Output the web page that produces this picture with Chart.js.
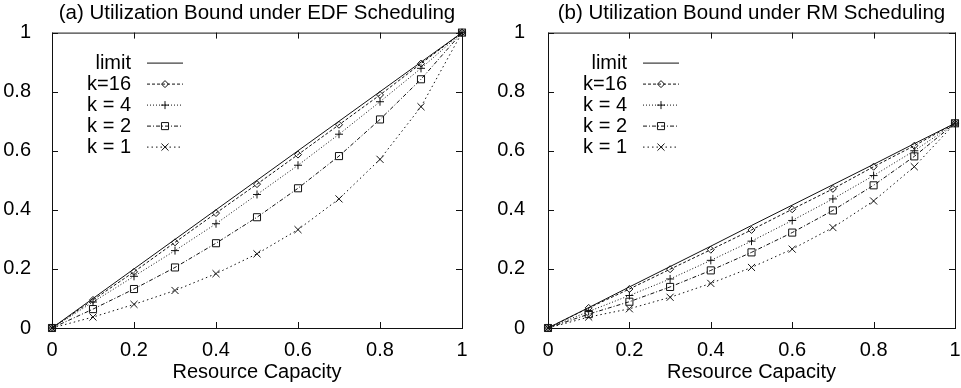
<!DOCTYPE html>
<html>
<head>
<meta charset="utf-8">
<script src="https://cdn.jsdelivr.net/npm/chart.js@4"></script>
<style>
  html, body { margin: 0; padding: 0; background: #fff; }
  #wrap   { display: flex; width: 961px; height: 388px; }
  .panel  { position: relative; height: 388px; }
</style>
</head>
<body>
<div id="wrap">
  <div class="panel"><canvas id="edfChart" width="480" height="388"></canvas></div>
  <div class="panel"><canvas id="rmChart"  width="481" height="388"></canvas></div>
</div>
<script>
// Utilization bounds vs. resource capacity

const capacity     = [0, 0.1, 0.2, 0.3, 0.4, 0.5, 0.6, 0.7, 0.8, 0.9, 1]
const seriesLabels = ['limit', 'k=16', 'k = 4', 'k = 2', 'k = 1']
const tickValues   = [0, 0.2, 0.4, 0.6, 0.8, 1]

// (a) EDF
const edfLimit = [0, 0.1,   0.2,   0.3,   0.4,   0.5,   0.6,   0.7,   0.8,   0.9,   1]
const edfK16   = [0, 0.095, 0.19,  0.29,  0.389, 0.487, 0.587, 0.688, 0.789, 0.895, 1]
const edfK4    = [0, 0.088, 0.175, 0.262, 0.353, 0.452, 0.551, 0.656, 0.766, 0.879, 1]
const edfK2    = [0, 0.064, 0.132, 0.205, 0.287, 0.375, 0.473, 0.582, 0.706, 0.842, 1]
const edfK1    = [0, 0.037, 0.08,  0.127, 0.184, 0.251, 0.333, 0.437, 0.571, 0.749, 1]

// (b) RM
const rmLimit  = [0, 0.069, 0.139, 0.208, 0.277, 0.347, 0.416, 0.485, 0.554, 0.624, 0.693]
const rmK16    = [0, 0.068, 0.132, 0.199, 0.265, 0.332, 0.402, 0.471, 0.546, 0.617, 0.693]
const rmK4     = [0, 0.056, 0.11,  0.166, 0.229, 0.294, 0.364, 0.437, 0.516, 0.6,   0.693]
const rmK2     = [0, 0.047, 0.089, 0.139, 0.195, 0.256, 0.323, 0.398, 0.483, 0.581, 0.693]
const rmK1     = [0, 0.037, 0.065, 0.104, 0.151, 0.205, 0.267, 0.34,  0.43,  0.546, 0.693]

const FONT = "'Liberation Sans', Arial, Helvetica, sans-serif"
const INK  = '#111'

// gnuplot-ish line types: solid, dashed, dotted, dash-dot, sparse dots
const seriesStyle = [
  { dash: [],           point: false,      radius: 0   },
  { dash: [3, 2],       point: 'rectRot',  radius: 3.5 },
  { dash: [1, 2],       point: 'cross',    radius: 4   },
  { dash: [4, 2, 1, 2], point: 'rect',     radius: 5   },
  { dash: [1.5, 3],     point: 'crossRot', radius: 5   }
]

// box around the plot with inward ticks on all four sides

const framePlugin = {
  id: 'frame',
  beforeDatasetsDraw(chart)
  {
    const { ctx, chartArea: a, scales } = chart
    const len = 6

    ctx.save()
    ctx.strokeStyle = INK
    ctx.lineWidth   = 1
    ctx.setLineDash([])
    ctx.strokeRect(a.left + 0.5, a.top + 0.5, a.right - a.left, a.bottom - a.top)

    ctx.beginPath()
    tickValues.forEach(v => {
      const x = Math.round(scales.x.getPixelForValue(v)) + 0.5
      const y = Math.round(scales.y.getPixelForValue(v)) + 0.5
      ctx.moveTo(x, a.bottom); ctx.lineTo(x, a.bottom - len)
      ctx.moveTo(x, a.top);    ctx.lineTo(x, a.top + len)
      ctx.moveTo(a.left, y);   ctx.lineTo(a.left + len, y)
      ctx.moveTo(a.right, y);  ctx.lineTo(a.right - len, y)
    })
    ctx.stroke()
    ctx.restore()
  }
}

// key inside the plot: right-aligned label, then a line sample with its marker

const keyPlugin = {
  id: 'key',
  afterDraw(chart)
  {
    const { ctx, chartArea: a } = chart
    const textRight = a.left + 79
    const lineFrom  = a.left + 95
    const lineTo    = a.left + 131
    const top       = a.top + 30
    const rowStep   = 21

    ctx.save()
    ctx.font         = `20px ${FONT}`
    ctx.textAlign    = 'right'
    ctx.textBaseline = 'middle'

    chart.data.datasets.forEach((ds, i) => {
      const y = top + i * rowStep

      ctx.fillStyle = '#000'
      ctx.fillText(ds.label, textRight, y + 1)

      ctx.strokeStyle = ds.borderColor
      ctx.lineWidth   = 1
      ctx.setLineDash(ds.borderDash)
      ctx.beginPath()
      ctx.moveTo(lineFrom, y + 0.5)
      ctx.lineTo(lineTo, y + 0.5)
      ctx.stroke()
      ctx.setLineDash([])

      if( ds.pointStyle )
      {
        ctx.fillStyle = 'rgba(0,0,0,0)'
        Chart.helpers.drawPoint(ctx, {
          pointStyle:  ds.pointStyle,
          radius:      ds.pointRadius,
          rotation:    0,
          borderWidth: 1
        }, (lineFrom + lineTo) / 2, y + 0.5)
      }
    })
    ctx.restore()
  }
}

function buildDatasets(series)
{
  return series.map((values, i) => {
    const st = seriesStyle[i]
    return {
      label:                seriesLabels[i],
      data:                 capacity.map((x, j) => ({ x: x, y: values[j] })),
      borderColor:          INK,
      borderWidth:          1,
      borderDash:           st.dash,
      pointStyle:           st.point,
      pointRadius:          st.radius,
      pointBorderColor:     INK,
      pointBorderWidth:     1,
      pointBackgroundColor: 'rgba(0,0,0,0)',
      tension:              0,
      clip:                 false
    }
  })
}

function makeChart(canvasId, title, series, yWidth, yPad, padRight)
{
  const tickFont = { family: FONT, size: 20 }

  return new Chart(document.getElementById(canvasId), {
    type: 'line',
    data: { datasets: buildDatasets(series) },
    plugins: [framePlugin, keyPlugin],
    options: {
      responsive:       false,
      animation:        false,
      devicePixelRatio: 1,
      layout: { padding: { left: 0, right: padRight, top: 0, bottom: 0 } },
      plugins: {
        legend:  { display: false },
        tooltip: { enabled: false },
        title: {
          display:  true,
          text:     title,
          fullSize: false,
          color:    '#000',
          font:     { family: FONT, size: 20.5, weight: 'normal' },
          padding:  { top: 1, bottom: 7 }
        }
      },
      scales: {
        x: {
          type:   'linear',
          min:    0,
          max:    1,
          grid:   { display: false },
          border: { display: false },
          ticks:  {
            stepSize: 0.2,
            padding:  2,
            color:    '#000',
            font:     tickFont,
            maxRotation: 0,
            callback: v => String(+v.toFixed(1))
          },
          title: {
            display: true,
            text:    'Resource Capacity',
            color:   '#000',
            font:    tickFont,
            padding: { top: 0, bottom: 4 }
          },
          afterFit: s => { s.height = 60; s.paddingLeft = 0; s.paddingRight = 0 }
        },
        y: {
          min:    0,
          max:    1,
          grid:   { display: false },
          border: { display: false },
          ticks:  {
            stepSize: 0.2,
            padding:  yPad,
            color:    '#000',
            font:     tickFont,
            callback: v => String(+v.toFixed(1))
          },
          afterFit: s => { s.width = yWidth; s.paddingTop = 0; s.paddingBottom = 0 }
        }
      }
    }
  })
}

makeChart('edfChart', '(a) Utilization Bound under EDF Scheduling', [edfLimit, edfK16, edfK4, edfK2, edfK1], 52, 13, 18)
makeChart('rmChart',  '(b) Utilization Bound under RM Scheduling',  [rmLimit,  rmK16,  rmK4,  rmK2,  rmK1],  68, 15, 4)
</script>
</body>
</html>
